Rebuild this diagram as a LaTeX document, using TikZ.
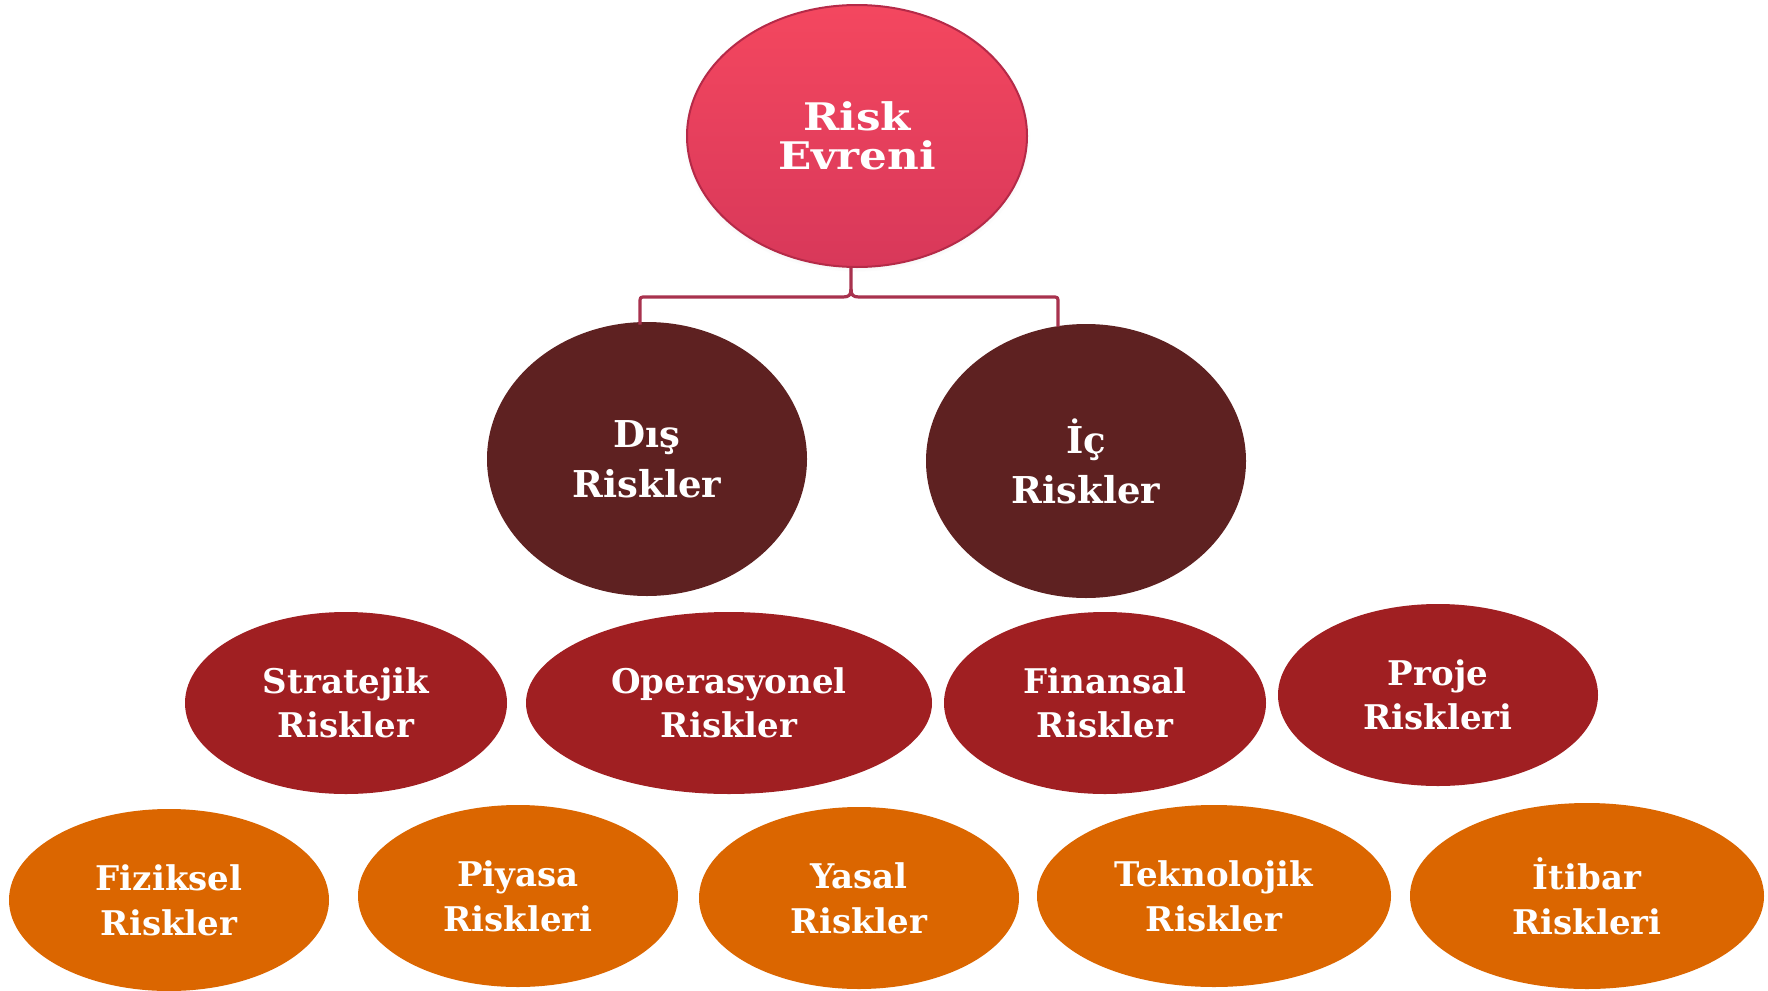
\documentclass[tikz,border=0pt]{standalone}
\usepackage{fontspec}
\setmainfont{DejaVu Serif}
\newfontfamily\rootfont{DejaVu Serif}[FakeStretch=1.15]
\usetikzlibrary{shapes.geometric,shadows,calc}
\definecolor{topA}{HTML}{F4475F}
\definecolor{topB}{HTML}{D8385A}
\definecolor{topRim}{HTML}{B52A48}
\definecolor{innerRed}{HTML}{5E2121}
\definecolor{midRed}{HTML}{A01F22}
\definecolor{lowOrange}{HTML}{DB6600}
\definecolor{linkPink}{HTML}{A8324E}
\tikzset{
  bubble/.style={ellipse, text=white, align=center, font=\bfseries, inner sep=0pt},
  rootbubble/.style={bubble, top color=topA, bottom color=topB, draw=topRim, line width=1pt,
    circular drop shadow={opacity=0.25, shadow scale=1.02, shadow xshift=0pt, shadow yshift=-1pt},
    font=\rootfont\bfseries\fontsize{19}{19.5}\selectfont},
  groupbubble/.style={bubble, fill=innerRed, font=\bfseries\fontsize{18.5}{25}\selectfont},
  typebubble/.style={bubble, fill=midRed, font=\bfseries\fontsize{17}{22}\selectfont},
  leafbubble/.style={bubble, fill=lowOrange, font=\bfseries\fontsize{17}{22.5}\selectfont},
  conn/.style={draw=linkPink, line width=1.6pt, line join=round}
}
\begin{document}
\begin{tikzpicture}[x=0.5pt, y=-0.5pt]
\useasboundingbox[fill=white] (0,0) rectangle (1768,991);

% root
\node[rootbubble, minimum width=170pt, minimum height=131pt] (root) at (857,136) {Risk\\Evreni};

% internal / external
\node[groupbubble, minimum width=160pt, minimum height=137pt] (dis) at (647,459) {Dış\\Riskler};
\node[groupbubble, minimum width=160pt, minimum height=137pt] (ic) at (1086,461) {İç\\Riskler};

% risk types
\node[typebubble, minimum width=161pt, minimum height=91pt] (strat) at (346,703) {Stratejik\\Riskler};
\node[typebubble, minimum width=203pt, minimum height=91pt] (oper) at (729,703) {Operasyonel\\Riskler};
\node[typebubble, minimum width=161pt, minimum height=91pt] (fin) at (1105,703) {Finansal\\Riskler};
\node[typebubble, minimum width=160pt, minimum height=91pt] (proje) at (1438,695) {Proje\\Riskleri};

% risk sources
\node[leafbubble, minimum width=160pt, minimum height=91pt] (fiz) at (169,900) {Fiziksel\\Riskler};
\node[leafbubble, minimum width=160pt, minimum height=91pt] (piy) at (518,896) {Piyasa\\Riskleri};
\node[leafbubble, minimum width=160pt, minimum height=91pt] (yas) at (859,898) {Yasal\\Riskler};
\node[leafbubble, minimum width=177pt, minimum height=91pt] (tek) at (1214,896) {Teknolojik\\Riskler};
\node[leafbubble, minimum width=177pt, minimum height=93pt] (itb) at (1587,896) {İtibar\\Riskleri};

% bracket from the root to the two groups
\coordinate (jl) at ($(dis.north)+(-7,3)$);
\coordinate (jr) at ($(ic.north)+(-28,3)$);
\coordinate (stem) at (851,289);
\draw[conn] (jl) -- (640,303) .. controls (640,297) .. (646,297) -- (843,297)
  .. controls (849,297) and (851,295) .. (stem) -- (root.south -| stem);
\draw[conn] (jr) -- (1058,303) .. controls (1058,297) .. (1052,297) -- (859,297)
  .. controls (853,297) and (851,295) .. (stem);
\end{tikzpicture}
\end{document}
